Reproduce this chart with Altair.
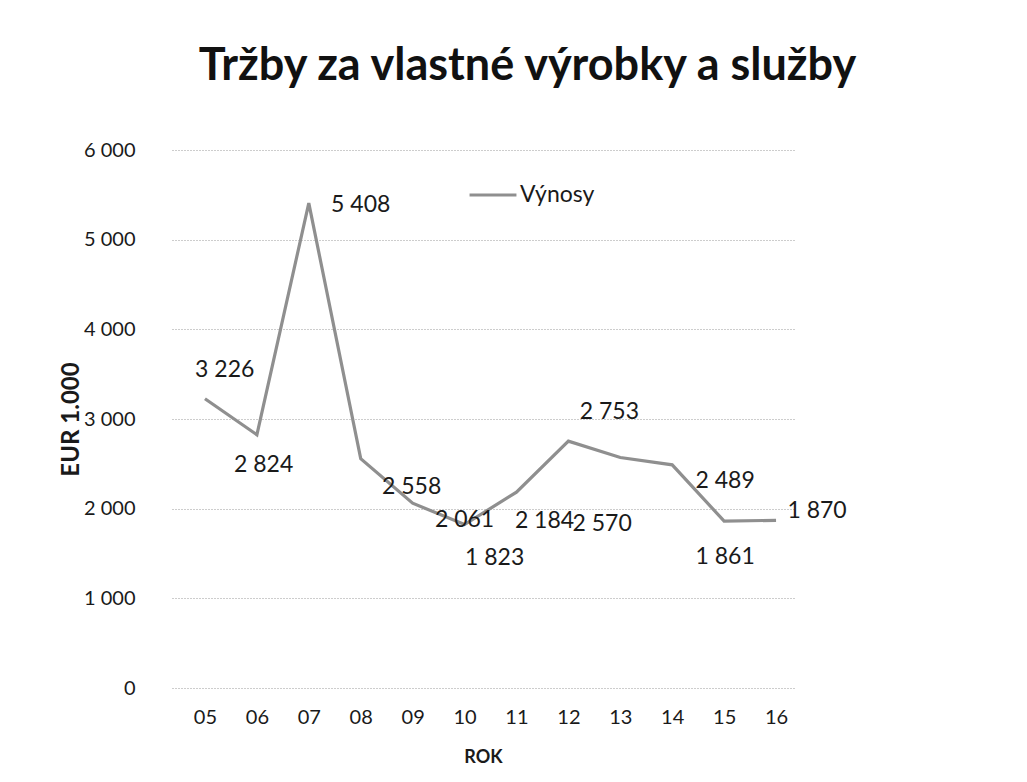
import altair as alt
import pandas as pd

# data
years = ["05", "06", "07", "08", "09", "10", "11", "12", "13", "14", "15", "16"]
values = [3226, 2824, 5408, 2558, 2061, 1823, 2184, 2753, 2570, 2489, 1861, 1870]
series_name = "Výnosy"
# label nudges (x in category steps, y in EUR 1.000 units) as manually placed in the original
label_nudge_x = [0.38, 0.13, 1.0, 0.98, 1.0, 0.58, 0.54, 0.79, -0.35, 1.02, 0.02, 0.79]
label_nudge_y = [323, -334, -22, -312, -190, -368, -323, 323, -736, -178, -401, 100]

df = pd.DataFrame({
    "idx": list(range(len(years))),
    "year": years,
    "value": values,
    "nx": label_nudge_x,
    "ny": label_nudge_y,
    "series": [series_name] * len(years),
})

FONT = "Lato"
TXT = "#1a1a1a"
year_expr = "[" + ",".join(f"'{y}'" for y in years) + "][datum.value]"

x_scale = alt.Scale(domain=[-0.635, len(years) - 0.635], nice=False, zero=False)
y_scale = alt.Scale(domain=[0, 6000], nice=False)

base = alt.Chart(df)

line = base.mark_line(strokeWidth=3.2).encode(
    x=alt.X("idx:Q", scale=x_scale,
            axis=alt.Axis(values=list(range(len(years))), labelExpr=year_expr,
                          title="ROK", grid=False, domain=False, ticks=False,
                          labelPadding=19, labelFontSize=20, labelColor=TXT,
                          titleFontSize=18, titleFontWeight="bold", titleColor=TXT,
                          titleX=311, titleY=69, titleBaseline="middle")),
    y=alt.Y("value:Q", scale=y_scale,
            axis=alt.Axis(values=[0, 1000, 2000, 3000, 4000, 5000, 6000], format=",d",
                          labelExpr="replace(datum.label, ',', ' ')",
                          title="EUR 1.000", domain=False, ticks=False,
                          labelPadding=37, labelFontSize=20, labelColor=TXT,
                          gridColor="#9a9a9a", gridDash=[1, 2], gridWidth=1,
                          titleFontSize=24, titleFontWeight="bold", titleColor=TXT,
                          titleX=-101, titleY=269, titleAngle=270,
                          titleAlign="center", titleBaseline="middle")),
    color=alt.Color("series:N", scale=alt.Scale(range=["#8f8f8f"]),
                    legend=alt.Legend(title=None, orient="none", legendX=296, legendY=20,
                                      symbolType="stroke", symbolSize=2200,
                                      symbolStrokeWidth=3, labelFontSize=23,
                                      labelColor=TXT, labelOffset=2, labelFont=FONT)),
)

labels = base.transform_calculate(
    lx="datum.idx + datum.nx",
    ly="datum.value + datum.ny",
    txt="replace(format(datum.value, ',d'), ',', ' ')",
).mark_text(fontSize=23, color=TXT, font=FONT, baseline="middle", align="center").encode(
    x=alt.X("lx:Q", scale=x_scale),
    y=alt.Y("ly:Q", scale=y_scale),
    text="txt:N",
)

chart = (line + labels).properties(
    width=623, height=538,
    title=alt.TitleParams("Tržby za vlastné výrobky a služby", fontSize=45, fontWeight="bold",
                          font=FONT, color="#111111", anchor="middle", dx=44, offset=51),
    autosize=alt.AutoSizeParams(type="none"),
    padding={"left": 164, "top": 142, "right": 215, "bottom": 80},
).configure(font=FONT).configure_view(stroke=None).configure_axis(labelFont=FONT, titleFont=FONT)

chart.save("out.html", embed_options={"renderer": "svg", "actions": False})
